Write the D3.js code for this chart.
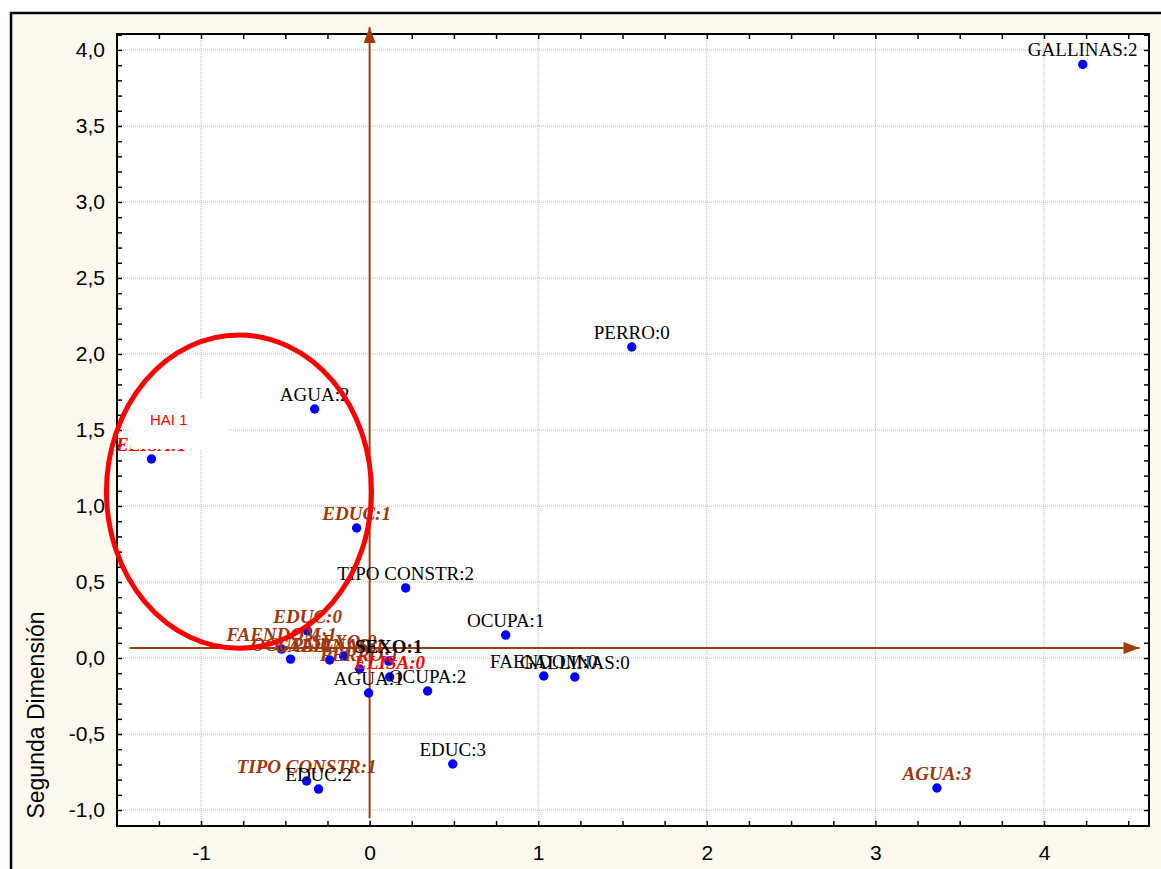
<!DOCTYPE html>
<html><head><meta charset="utf-8">
<script src="https://cdn.jsdelivr.net/npm/d3@7"></script>
<style>body{margin:0;background:#fff}svg{display:block}</style>
</head><body>
<svg id="c" width="1161" height="869"></svg>
<script>
// ---- data ----
const labels = ["GALLINAS:2","PERRO:0","AGUA:2","ELISA:1","EDUC:1","TIPO CONSTR:2","OCUPA:1","FAENDOM:0","GALLINAS:0","OCUPA:2","AGUA:1","EDUC:3","AGUA:3","TIPO CONSTR:1","EDUC:2","EDUC:0","FAENDOM:1","OCUPA:0","GALLINAS:1","SEXO:0","PERRO:1","SEXO:1","ELISA:0"];
const dim1 =   [4.23, 1.555, -0.326, -1.294, -0.077, 0.214, 0.807, 1.033, 1.217, 0.344, -0.006, 0.493, 3.365, -0.374, -0.303, -0.368, -0.522, -0.469, -0.237, -0.154, -0.059, 0.113, 0.119];
const dim2 =   [3.905, 2.046, 1.638, 1.309, 0.855, 0.461, 0.151, -0.118, -0.125, -0.217, -0.230, -0.697, -0.855, -0.809, -0.862, 0.178, 0.059, -0.007, -0.013, 0.013, -0.072, -0.020, -0.125];
// label style group: 0 = black regular, 1 = brown bold italic, 2 = red bold italic, 3 = black bold
const group =  [0,0,0,2,1,0,0,0,0,0,0,0,1,1,0,1,1,1,1,1,1,3,2];
const xTicks = [-1,0,1,2,3,4];
const yTicks = [-1.0,-0.5,0.0,0.5,1.0,1.5,2.0,2.5,3.0,3.5,4.0];
const yTitle = "Segunda Dimensión";
const noteText = "HAI 1";
// annotations (data units)
const hArrow = {x1:-1.424, x2:4.567, y:0.066};
const vArrow = {x:0, y1:-1.053, y2:4.151};
const ellipse = {cx:-0.775, cy:1.095, rx:0.786, ry:1.03};
const noteBox = {x1:-1.415, x2:-0.84, y1:1.705, y2:1.375};

// ---- layout ----
const svg = d3.select("#c");
const L=117, R=1149, T=34, B=826;
const x = d3.scaleLinear().domain([-1.4985, 4.623]).range([L, R]);
const y = d3.scaleLinear().domain([-1.105, 4.105]).range([B, T]);
const brown = "#a33b0e", labBrown="#a0360c";

svg.append("rect").attr("x",11).attr("y",13).attr("width",1200).attr("height",900)
  .attr("fill","#fdf9ef").attr("stroke","#000").attr("stroke-width",2.5);
svg.append("rect").attr("x",L).attr("y",T).attr("width",R-L).attr("height",B-T).attr("fill","#fff");

// grid
const g = svg.append("g");
g.selectAll(".gx").data(xTicks).join("line")
  .attr("x1",d=>x(d)).attr("x2",d=>x(d)).attr("y1",T).attr("y2",B)
  .attr("stroke","#b8b8b8").attr("stroke-width",1).attr("stroke-dasharray","1,1");
g.selectAll(".gy").data(yTicks).join("line")
  .attr("y1",d=>y(d)).attr("y2",d=>y(d)).attr("x1",L).attr("x2",R)
  .attr("stroke","#b8b8b8").attr("stroke-width",1).attr("stroke-dasharray","1,1");

// axes with inward ticks
const fmtY = d => d3.format(".1f")(d).replace(".",",").replace("−","-");
const fmtX = d => d3.format("d")(d).replace("−","-");
const xMinor = d3.range(-1.25, 4.6, 0.25);
const yMinor = d3.range(-1.1, 4.11, 0.1);
function ax(axisFn, scale, ticks, tr, size){
  const a = svg.append("g").attr("transform",tr)
    .call(axisFn(scale).tickValues(ticks).tickSize(size).tickFormat(""));
  a.select(".domain").remove();
  a.selectAll("line").attr("stroke","#000").attr("stroke-width",1.5);
  return a;
}
ax(d3.axisTop, x, xMinor, `translate(0,${B})`, 5);
ax(d3.axisBottom, x, xMinor, `translate(0,${T})`, 5);
ax(d3.axisRight, y, yMinor, `translate(${L},0)`, 5);
ax(d3.axisLeft, y, yMinor, `translate(${R},0)`, 5);
svg.append("rect").attr("x",L).attr("y",T).attr("width",R-L).attr("height",B-T)
  .attr("fill","none").attr("stroke","#000").attr("stroke-width",2);

// tick labels
const xl = svg.append("g").attr("transform",`translate(0,${B+34})`)
  .call(d3.axisBottom(x).tickValues(xTicks).tickSize(0).tickPadding(0).tickFormat(fmtX));
xl.select(".domain").remove();
xl.selectAll("text").attr("font-family","Liberation Sans, Arial").attr("font-size",21).attr("fill","#000").attr("dy",0);
const yl = svg.append("g").attr("transform",`translate(${L-12},0)`)
  .call(d3.axisLeft(y).tickValues(yTicks).tickSize(0).tickPadding(0).tickFormat(fmtY));
yl.select(".domain").remove();
yl.selectAll("text").attr("font-family","Liberation Sans, Arial").attr("font-size",21).attr("fill","#000");

svg.append("text").attr("transform","translate(44,715) rotate(-90)")
  .attr("text-anchor","middle").attr("font-family","Liberation Sans, Arial").attr("font-size",23)
  .text(yTitle);

// arrows
function arrow(x1,y1,x2,y2){
  svg.append("line").attr("x1",x1).attr("y1",y1).attr("x2",x2).attr("y2",y2)
    .attr("stroke",brown).attr("stroke-width",2);
  const ang = Math.atan2(y2-y1,x2-x1), len=16, w=6;
  const bx = x2-len*Math.cos(ang), by = y2-len*Math.sin(ang);
  const px = -Math.sin(ang)*w, py = Math.cos(ang)*w;
  svg.append("path").attr("d",`M${x2},${y2}L${bx+px},${by+py}L${bx-px},${by-py}Z`).attr("fill",brown);
}
arrow(x(hArrow.x1), y(hArrow.y), x(hArrow.x2), y(hArrow.y));
arrow(x(vArrow.x), y(vArrow.y1), x(vArrow.x), y(vArrow.y2));

// points
const pts = labels.map((l,i)=>({l, x:dim1[i], y:dim2[i], g:group[i]}));
svg.append("g").selectAll("circle").data(pts).join("circle")
  .attr("cx",d=>x(d.x)).attr("cy",d=>y(d.y)).attr("r",4.7).attr("fill","#0000ff");
svg.append("g").selectAll("text").data(pts).join("text")
  .attr("x",d=>x(d.x)).attr("y",d=>y(d.y)-8).attr("text-anchor","middle")
  .attr("font-family","Liberation Serif, Times New Roman").attr("font-size",19)
  .attr("font-weight",d=>d.g===0?"normal":"bold")
  .attr("font-style",d=>(d.g===1||d.g===2)?"italic":"normal")
  .attr("fill",d=>d.g===1?labBrown:(d.g===2?"#ff0000":"#000"))
  .text(d=>d.l);

// white note box
svg.append("rect").attr("x",x(noteBox.x1)).attr("y",y(noteBox.y1))
  .attr("width",x(noteBox.x2)-x(noteBox.x1)).attr("height",y(noteBox.y2)-y(noteBox.y1)).attr("fill","#fff");
svg.append("text").attr("x",150).attr("y",425)
  .attr("font-family","Liberation Sans, Arial").attr("font-size",15).attr("fill","#ff0000").text(noteText);

// ellipse (drawn on top)
svg.append("ellipse").attr("cx",x(ellipse.cx)).attr("cy",y(ellipse.cy))
  .attr("rx",x(ellipse.rx)-x(0)).attr("ry",y(0)-y(ellipse.ry))
  .attr("fill","none").attr("stroke","#ff0000").attr("stroke-width",5);
</script>
</body></html>
